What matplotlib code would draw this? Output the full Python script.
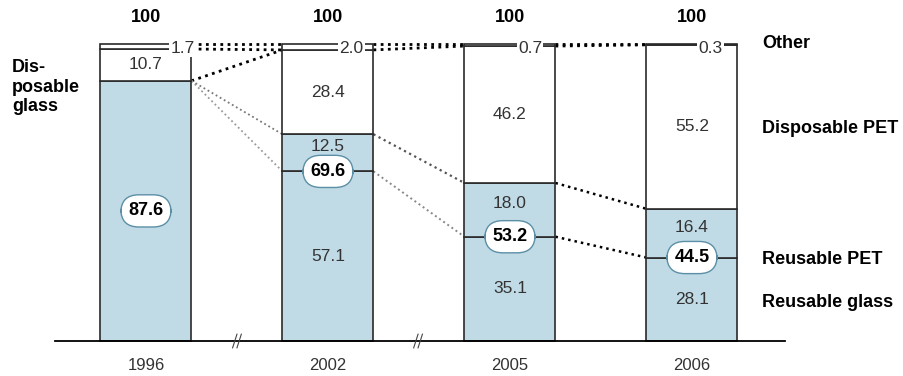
import numpy as np
import matplotlib
matplotlib.use('Agg')
import matplotlib.pyplot as plt

plt.rcParams['font.family'] = ['Liberation Sans', 'DejaVu Sans']

# data: shares in %, per year
years = ['1996', '2002', '2005', '2006']
reusable_glass = [87.6, 57.1, 35.1, 28.1]
reusable_pet = [0.0, 12.5, 18.0, 16.4]
disposable_glass = [10.7, 0.0, 0.0, 0.0]
disposable_pet = [0.0, 28.4, 46.2, 55.2]
other = [1.7, 2.0, 0.7, 0.3]
reusable_total = [87.6, 69.6, 53.2, 44.5]
totals = [100, 100, 100, 100]

right_labels = ['Other', 'Disposable PET', 'Reusable PET', 'Reusable glass']
right_label_y = [100, 71.5, 27.5, 13.0]

BLUE = '#c0dbe6'
EDGE = '#2a2a2a'
TXT = '#333333'
W = 0.5

x = np.arange(len(years))

fig = plt.figure(figsize=(9.04, 3.76), dpi=100)
ax = fig.add_axes([0, 0, 1, 1])
ax.set_xlim(-0.802, 4.165)
ax.set_ylim(-11.78, 114.8)
ax.axis('off')

# stacked bars, skip empty segments
stack = [(reusable_glass, BLUE), (reusable_pet, BLUE),
         (disposable_glass, 'white'), (disposable_pet, 'white'), (other, 'white')]
bottom = np.zeros(len(years))
for vals, col in stack:
    vals = np.array(vals)
    m = vals > 0
    ax.bar(x[m], vals[m], bottom=bottom[m], width=W, color=col,
           edgecolor=EDGE, linewidth=1.2, zorder=2)
    bottom += vals

# baseline and axis breaks
ax.plot([-0.5, 3.51], [0, 0], color='black', lw=1.3, zorder=3)
for xb in [0.5, 1.495]:
    for dx in (-0.012, 0.012):
        ax.plot([xb + dx - 0.012, xb + dx + 0.012], [-2.3, 2.3], color='#444', lw=0.8, zorder=3)

# dotted connectors between bars
def conn(i, y0, y1, color='black', lw=2.0):
    ax.plot([x[i] + W / 2, x[i + 1] - W / 2], [y0, y1], color=color, lw=lw,
            linestyle=(0, (1, 1.6)), zorder=1)

for i in range(len(years) - 1):
    conn(i, totals[i], totals[i + 1])
    conn(i, totals[i] - other[i], totals[i + 1] - other[i + 1])
conn(0, reusable_total[0], totals[1] - other[1])
conn(0, reusable_total[0], reusable_total[1], color='#777', lw=1.3)
conn(0, reusable_total[0], reusable_glass[1], color='#999', lw=1.3)
conn(1, reusable_total[1], reusable_total[2], color='#555', lw=1.6)
conn(1, reusable_glass[1], reusable_glass[2], color='#888', lw=1.4)
conn(2, reusable_total[2], reusable_total[3], lw=1.8)
conn(2, reusable_glass[2], reusable_glass[3], lw=1.8)

# totals on top
for xi, t in zip(x, totals):
    ax.text(xi, 108.8, str(t), ha='center', va='center', fontsize=13, fontweight='bold')

# year labels
for xi, yr in zip(x, years):
    ax.text(xi, -8.4, yr, ha='center', va='center', fontsize=12, color=TXT)

# "other" labels at top-right corner
other_dx = [0.05, 0.12, 0.14, 0.15]
for xi, o, dx in zip(x, other, other_dx):
    ax.text(xi + W / 2 - dx, 98.6, f'{o:.1f}', ha='center', va='center', fontsize=12.5,
            color=TXT, zorder=4,
            bbox=dict(boxstyle='square,pad=0.08', facecolor='white', edgecolor='none'))

# segment labels
for i, xi in enumerate(x):
    if disposable_glass[i] > 0:
        ax.text(xi, reusable_total[i] + disposable_glass[i] / 2, f'{disposable_glass[i]:.1f}',
                ha='center', va='center', fontsize=12.5, color=TXT, zorder=4)
    if disposable_pet[i] > 0:
        ax.text(xi, reusable_total[i] + disposable_pet[i] / 2, f'{disposable_pet[i]:.1f}',
                ha='center', va='center', fontsize=12.5, color=TXT, zorder=4)
    if reusable_pet[i] > 0:
        ax.text(xi, (reusable_total[i] + reusable_glass[i] + 4) / 2, f'{reusable_pet[i]:.1f}',
                ha='center', va='center', fontsize=12.5, color=TXT, zorder=4)
        ax.text(xi, reusable_glass[i] / 2, f'{reusable_glass[i]:.1f}',
                ha='center', va='center', fontsize=12.5, color=TXT, zorder=4)

# bubbles with reusable totals
for i, xi in enumerate(x):
    yb = reusable_glass[i] if reusable_pet[i] > 0 else reusable_total[i] / 2
    ax.text(xi, yb, f'{reusable_total[i]:.1f}', ha='center', va='center', fontsize=13,
            fontweight='bold', zorder=5,
            bbox=dict(boxstyle='round,pad=0.42,rounding_size=1.0', facecolor='white',
                      edgecolor='#5b8fa6', linewidth=1.0))

# series labels
for lab, yl in zip(right_labels, right_label_y):
    ax.text(3.385, yl, lab, ha='left', va='center', fontsize=13, fontweight='bold')
ax.text(-0.736, 85.5, 'Dis-\nposable\nglass', ha='left', va='center', fontsize=13,
        fontweight='bold', linespacing=1.2)

plt.savefig('out.png', dpi=100)
plt.close()
